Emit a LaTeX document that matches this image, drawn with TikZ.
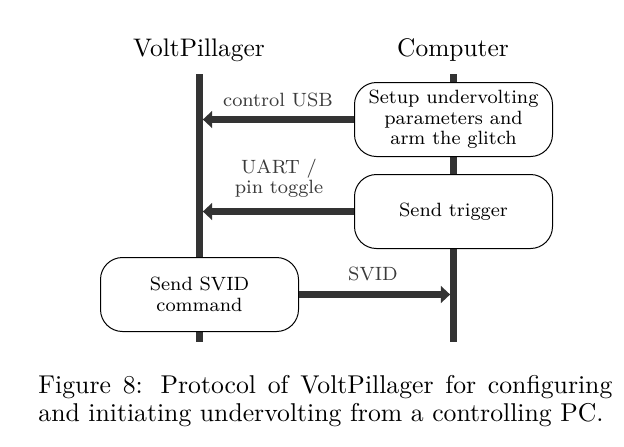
\documentclass[tikz,border=0pt]{standalone}
\usetikzlibrary{arrows.meta}
\definecolor{lifegray}{HTML}{333333}
\definecolor{labgray}{HTML}{3A3A3A}
\font\boxfnt="[lmroman8-regular]:mapping=tex-text" at 9.6pt
\font\headfnt="[lmroman10-regular]:mapping=tex-text" at 12.7pt
\font\capfnt="[lmroman10-regular]:mapping=tex-text" at 12.86pt
\begin{document}
\begin{tikzpicture}[x=0.5pt,y=-0.5pt,
  lifeline/.style={draw=lifegray,line width=3.4pt},
  msg/.style={draw=lifegray,line width=3.7pt,shorten >=1.7pt,
    -{Triangle[length=4.6pt,width=8.6pt,line width=0pt]}},
  actor/.style={font=\headfnt,anchor=base,inner sep=0pt},
  stepbox/.style={draw=black,line width=0.5pt,fill=white,rounded corners=11pt,
    minimum width=99pt,minimum height=37pt,align=center,inner sep=1pt,
    font={\fontsize{9.6}{10.25}\selectfont\boxfnt}},
  msglabel/.style={text=labgray,align=center,inner sep=0pt,
    font={\fontsize{9.6}{10}\selectfont\boxfnt}},
  captext/.style={anchor=base west,inner sep=0pt,font=\capfnt},
]
\useasboundingbox[fill=white] (0,0) rectangle (624,446);
\coordinate (vpTop) at (199.5,74);
\coordinate (vpBot) at (199.5,342);
\coordinate (pcTop) at (453.5,74);
\coordinate (pcBot) at (453.5,342);
\node[actor] (vpName) at (199,56) {VoltPillager};
\node[actor] (pcName) at (453,56) {Computer};
\draw[lifeline] (vpTop) -- (vpBot);
\draw[lifeline] (pcTop) -- (pcBot);
\node[stepbox] (setup) at (453.5,119.5) {Setup undervolting\\parameters and\\arm the glitch};
\node[stepbox] (trigger) at (453.5,211.5) {Send trigger};
\node[stepbox] (svid) at (199.5,294.5) {Send SVID\\command};
\draw[msg] (setup.west) -- (setup.west -| vpTop);
\draw[msg] (trigger.west) -- (trigger.west -| vpTop);
\draw[msg] (svid.east) -- (svid.east -| pcTop);
\node[msglabel,anchor=base] (usbLab) at (278,106) {control USB};
\node[msglabel,anchor=center] (uartLab) at (279,178) {UART /\\pin toggle};
\node[msglabel,anchor=base] (svidLab) at (373,280) {SVID};
\node[captext] (cap1) at (38,393) {\makebox[287pt][s]{Figure 8: Protocol of VoltPillager for configuring}};
\node[captext] (cap2) at (38,421) {and initiating undervolting from a controlling PC.};
\end{tikzpicture}
\end{document}
